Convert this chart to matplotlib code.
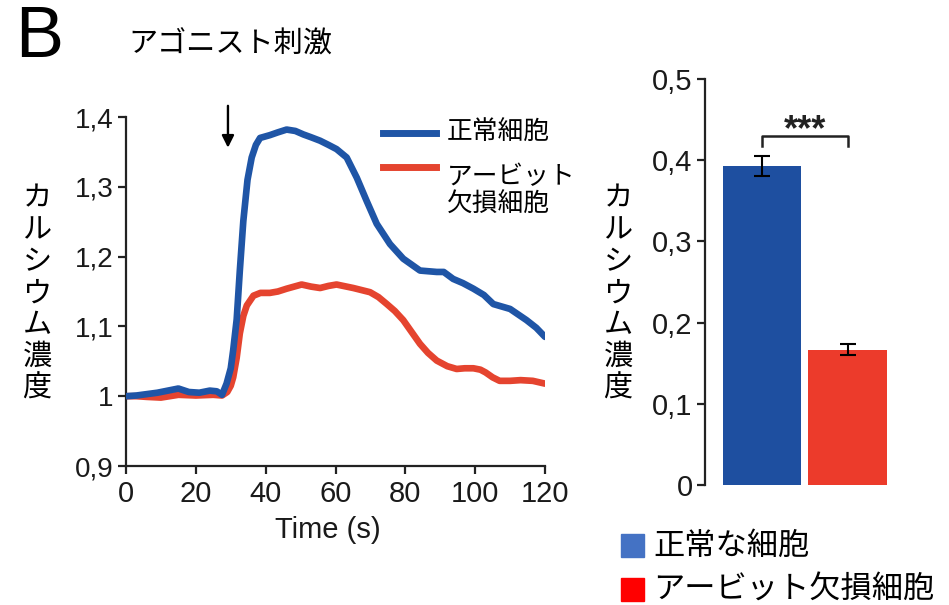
import matplotlib
matplotlib.use("Agg")
import matplotlib.pyplot as plt
from matplotlib.lines import Line2D
from matplotlib.patches import Rectangle

plt.rcParams['font.family'] = ['Liberation Sans', 'Noto Sans CJK JP', 'DejaVu Sans']
JP = ['Noto Sans CJK JP', 'DejaVu Sans']

# --- data ---
t_normal = [0, 3, 6, 9, 12, 15, 18, 21, 24, 26, 27.5, 28.8, 30, 30.7, 31.7, 32.6, 33.6, 34.8, 36, 37.2,
            38.4, 41.2, 43.5, 46, 48.5, 50.8, 53, 55.6, 58, 60.3, 63.2, 66.1, 68.9, 71.8, 75.6, 79.4,
            84.2, 89, 91, 93.7, 96.5, 99.5, 102.5, 105.2, 110, 114.7, 117.5, 120]
ca_normal = [1.000, 1.001, 1.003, 1.005, 1.008, 1.011, 1.006, 1.005, 1.008, 1.007, 1.002, 1.018, 1.040,
             1.066, 1.110, 1.180, 1.251, 1.310, 1.342, 1.360, 1.370, 1.374, 1.378, 1.382, 1.380, 1.375,
             1.371, 1.366, 1.360, 1.354, 1.342, 1.313, 1.280, 1.247, 1.218, 1.197, 1.180, 1.178, 1.178,
             1.168, 1.162, 1.154, 1.145, 1.132, 1.125, 1.109, 1.098, 1.085]

t_abit = [0, 3, 6, 10, 15, 20, 25, 27.5, 29, 30, 30.7, 31.7, 32.6, 33.6, 34.6, 36.5, 38.5, 41.2, 43.5, 46,
          50.3, 53, 55.6, 58, 60.3, 65.1, 69.9, 72.3, 74.7, 77, 79.4, 81.8, 84.2, 86.5, 89, 92, 94.7,
          97, 99.5, 101.5, 103, 105, 107, 110, 113, 116.5, 120]
ca_abit = [1.000, 1.000, 0.999, 0.998, 1.002, 1.001, 1.002, 1.001, 1.006, 1.015, 1.027, 1.055, 1.090,
           1.115, 1.130, 1.144, 1.148, 1.148, 1.150, 1.154, 1.160, 1.157, 1.155, 1.158, 1.160, 1.155,
           1.149, 1.142, 1.132, 1.122, 1.109, 1.092, 1.075, 1.062, 1.051, 1.043, 1.039, 1.040, 1.040,
           1.038, 1.034, 1.027, 1.022, 1.022, 1.023, 1.022, 1.018]

x_ticks = [0, 20, 40, 60, 80, 100, 120]
y_ticks_left = [0.9, 1.0, 1.1, 1.2, 1.3, 1.4]
y_labels_left = ['0,9', '1', '1,1', '1,2', '1,3', '1,4']

bar_groups = ['正常な細胞', 'アービット欠損細胞']
bar_means = [0.3925, 0.1665]
bar_errs = [0.0125, 0.007]
y_ticks_right = [0, 0.1, 0.2, 0.3, 0.4, 0.5]
y_labels_right = ['0', '0,1', '0,2', '0,3', '0,4', '0,5']

blue_line = '#1F55A6'
red_line = '#E5442F'
blue_bar = '#1E4FA0'
red_bar = '#EC3B2B'
axis_col = '#222222'

fig = plt.figure(figsize=(9.49, 6.05), dpi=100)
W, H = 949.0, 605.0

# --- left: time course ---
ax = fig.add_axes([126 / W, 1 - 466 / H, 419 / W, 349 / H])
ax.plot(t_normal, ca_normal, color=blue_line, lw=4.8, solid_capstyle='round', zorder=3)
ax.plot(t_abit, ca_abit, color=red_line, lw=4.8, solid_capstyle='round', zorder=2)
ax.set_xlim(0, 120)
ax.set_ylim(0.9, 1.4)
ax.set_xticks(x_ticks)
ax.set_xticklabels([str(v) for v in x_ticks], fontsize=21)
ax.set_yticks(y_ticks_left)
ax.set_yticklabels(y_labels_left, fontsize=20)
for s in ['top', 'right']:
    ax.spines[s].set_visible(False)
for s in ['left', 'bottom']:
    ax.spines[s].set_linewidth(1.6)
    ax.spines[s].set_color(axis_col)
ax.tick_params(length=6, width=1.6, color=axis_col, pad=3, labelcolor='#1a1a1a')
ax.tick_params(axis='x', pad=4)

# stimulus arrow
ax.annotate('', xy=(29.2, 1.352), xytext=(29.2, 1.42),
            arrowprops=dict(arrowstyle='-|>', color='black', lw=1.7, mutation_scale=18),
            annotation_clip=False)

fig.text(328 / W, 1 - 530 / H, 'Time (s)', fontsize=21, ha='center', va='center', color='#1a1a1a')

# legend of the time course
fig.add_artist(Line2D([383 / W, 436 / W], [1 - 133 / H, 1 - 133 / H], color=blue_line, lw=5))
fig.add_artist(Line2D([383 / W, 436 / W], [1 - 167 / H, 1 - 167 / H], color=red_line, lw=5))
fig.text(447 / W, 1 - 133 / H, '正常細胞', fontsize=18.5, family=JP, ha='left', va='center')
fig.text(447 / W, 1 - 191 / H, 'アービット\n欠損細胞', fontsize=18.5, family=JP, ha='left', va='center',
         linespacing=1.1)

# --- right: bar chart ---
ax2 = fig.add_axes([705 / W, 1 - 485 / H, 195 / W, 406 / H])
xpos = [0, 1]
ax2.bar(xpos, bar_means, width=0.918, color=[blue_bar, red_bar], zorder=2)
ax2.errorbar(xpos, bar_means, yerr=bar_errs, fmt='none', ecolor='black', elinewidth=1.5,
             capsize=6, capthick=1.5, zorder=3)
ax2.set_xlim(-0.667, 1.614)
ax2.set_ylim(0, 0.5)
ax2.set_yticks(y_ticks_right)
ax2.set_yticklabels(y_labels_right, fontsize=21)
ax2.set_xticks([])
for s in ['top', 'right', 'bottom']:
    ax2.spines[s].set_visible(False)
ax2.spines['left'].set_linewidth(1.6)
ax2.spines['left'].set_color(axis_col)
ax2.tick_params(length=6, width=1.6, color=axis_col, pad=3, labelcolor='#1a1a1a')

# significance bracket
ax2.plot([0, 0, 1, 1], [0.4175, 0.43, 0.43, 0.4175], color='#222222', lw=1.8, clip_on=False)
ax2.text(0.5, 0.436, '***', fontsize=26, fontweight='bold', ha='center', va='center', color='#222222')

# legend of the bar chart
for i, (name, col) in enumerate(zip(bar_groups, ['#4472C4', '#FF0000'])):
    yc = 545.5 + i * 44
    fig.add_artist(Rectangle((621 / W, 1 - (yc + 11.5) / H), 23 / W, 23 / H,
                             transform=fig.transFigure, color=col))
    fig.text(653 / W, 1 - yc / H, name, fontsize=22.5, family=JP, ha='left', va='center')

# --- shared labels ---
ylab = '\n'.join('カルシウム濃度')
fig.text(37 / W, 1 - 293.5 / H, ylab, fontsize=21, family=JP, ha='center', va='center', linespacing=1.07)
fig.text(618 / W, 1 - 293.5 / H, ylab, fontsize=21, family=JP, ha='center', va='center', linespacing=1.07)

fig.text(15 / W, 1 - 38.5 / H, 'B', fontsize=52, ha='left', va='center')
fig.text(128 / W, 1 - 44 / H, 'アゴニスト刺激', fontsize=21, family=JP, ha='left', va='center')

fig.savefig('out.png', dpi=100)
